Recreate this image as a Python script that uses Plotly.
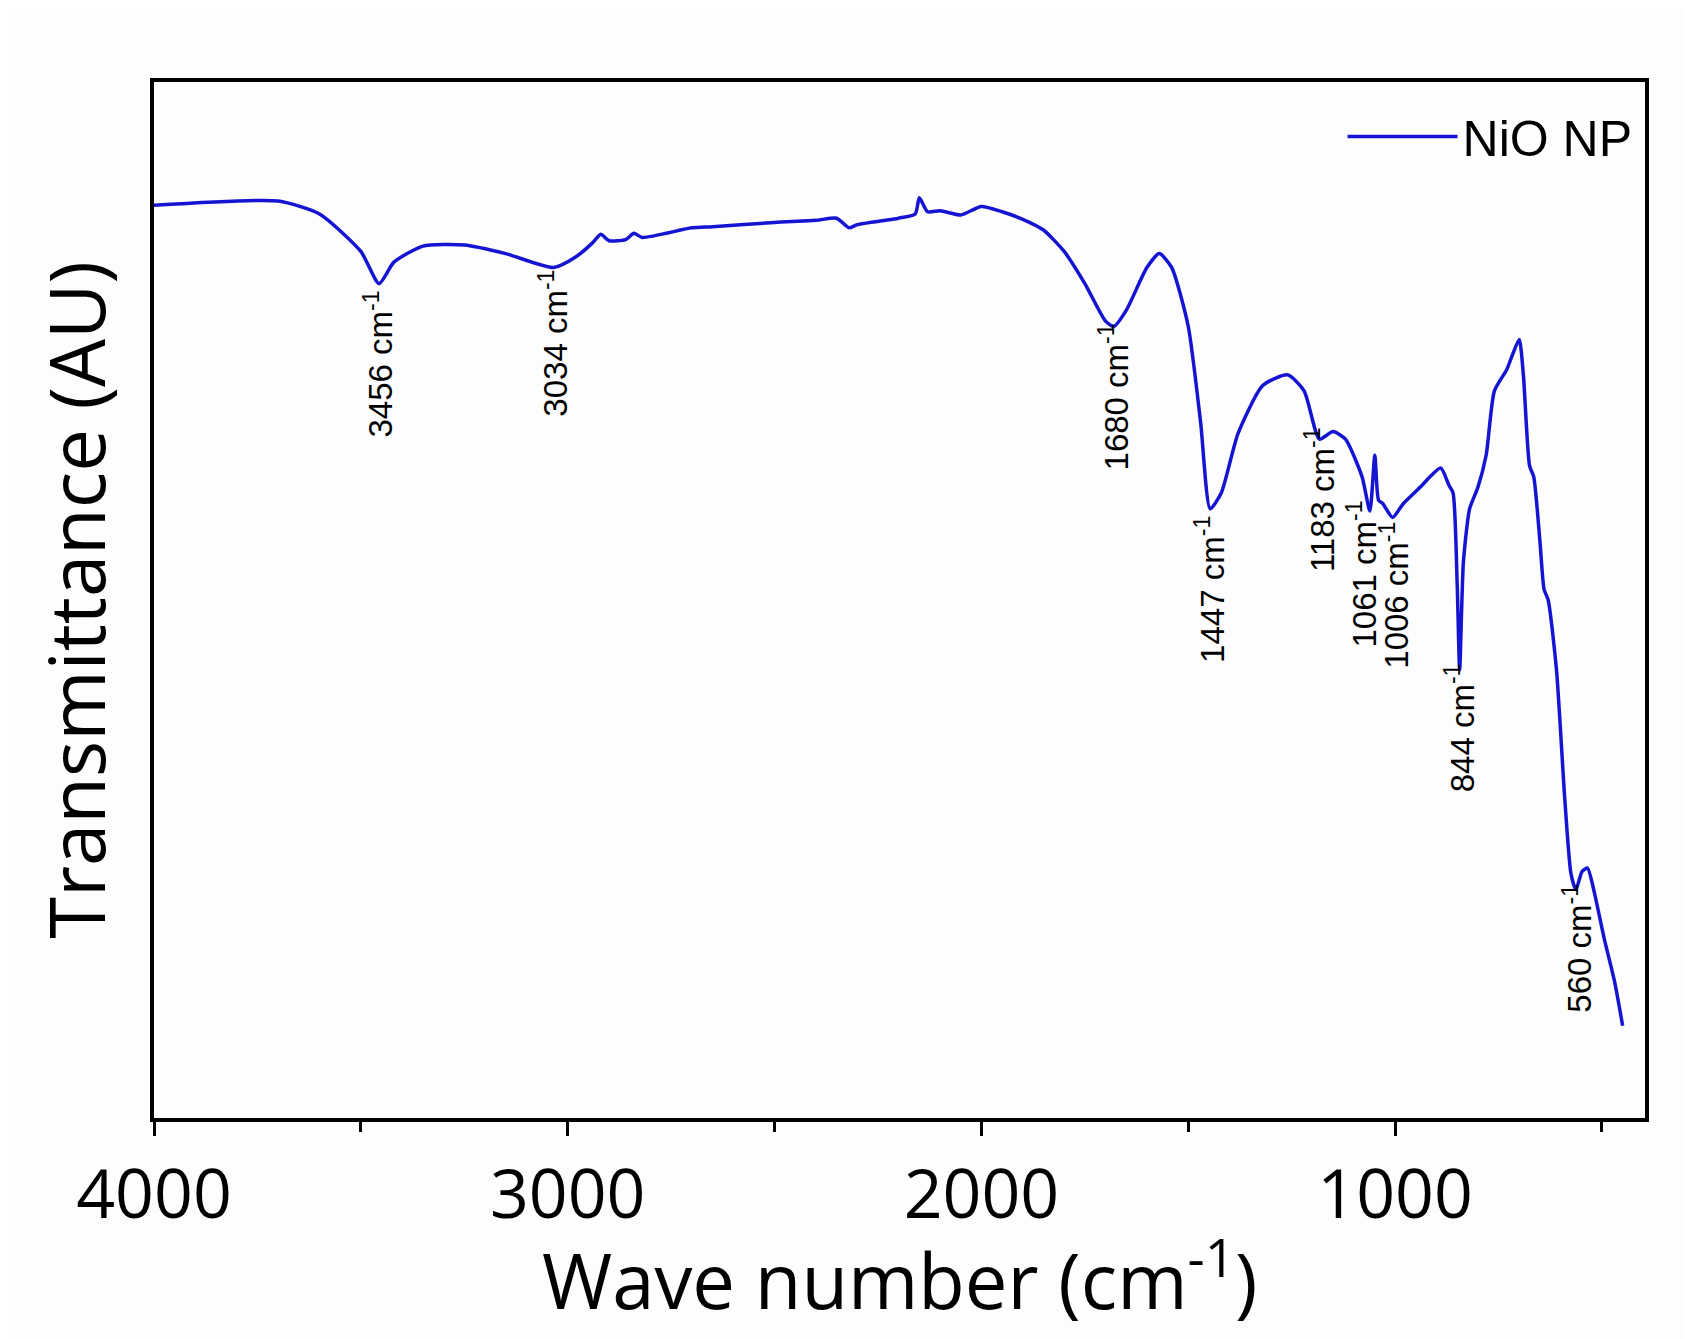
import plotly.graph_objects as go

wavenumber = [4000,3700,3600,3500,3456,3420,3350,3250,3150,3034,2980,2940,2920,2900,2860,2840,2820,2700,2650,2500,2400,2350,2320,2300,2200,2160,2150,2130,2100,2050,2000,1950,1900,1850,1800,1750,1700,1680,1650,1600,1570,1540,1500,1470,1447,1420,1380,1320,1260,1220,1183,1150,1120,1080,1061,1049,1040,1030,1006,980,940,890,870,860,850,844,835,820,800,780,760,730,715,700,690,675,665,650,640,630,610,590,575,563,548,535,520,495,470,450]
ypix = [187,183,195,230,260,240,225,224,232,245,235,222,214,220,219,213,217,208,207,203,201,199,208,205,199,195,180,193,192,196,188,193,200,210,230,260,295,300,285,245,232,245,300,390,470,455,400,355,345,360,405,398,405,440,472,420,462,465,478,465,450,432,448,455,540,620,520,470,450,420,360,340,325,312,345,430,440,500,545,555,620,740,810,825,808,805,825,870,910,952]
transmittance = [1038 - v for v in ypix]

peak_labels = ["3456", "3034", "1680", "1447", "1183", "1061", "1006", "844", "560"]
peak_x = [3456, 3034, 1680, 1447, 1183, 1061, 1006, 844, 560]
peak_top = [265, 245, 295, 475, 392, 460, 480, 612, 818]
peak_shift = [0, 0, 0, 0, 0, -8, 2, 0, 0]

fig = go.Figure()
fig.add_trace(go.Scatter(x=wavenumber, y=transmittance, mode="lines", name="NiO NP",
                         line=dict(color="#1414d2", width=3.5, shape="spline", smoothing=0.6)))

for lab, px, top, sh in zip(peak_labels, peak_x, peak_top, peak_shift):
    fig.add_annotation(x=px, y=1038 - top, text=f"{lab} cm<sup>-1</sup>", textangle=-90,
                       showarrow=False, xanchor="center", yanchor="top", xshift=sh,
                       font=dict(family="Liberation Sans", size=33, color="black"))

fig.add_annotation(xref="paper", yref="paper", x=0.5, y=-0.208, xanchor="center", yanchor="bottom",
                   text="Wave number (cm<sup>-1</sup>)", showarrow=False,
                   font=dict(family="Open Sans", size=76, color="black"))

fig.update_layout(
    width=1691, height=1339,
    margin=dict(l=146, r=54, t=74, b=229),
    paper_bgcolor="#fdfdfd", plot_bgcolor="#fdfdfd",
    showlegend=True,
    legend=dict(x=0.995, y=0.985, xanchor="right", yanchor="top", bgcolor="rgba(0,0,0,0)",
                font=dict(family="Liberation Sans", size=50, color="black"), itemwidth=110),
    xaxis=dict(range=[4000, 396], tickvals=[4000, 3000, 2000, 1000], ticktext=["4000", "3000", "2000", "1000"],
               ticks="outside", ticklen=14, tickwidth=3, tickcolor="black",
               minor=dict(tickvals=[3500, 2500, 1500, 500], ticks="outside", ticklen=10, tickwidth=3, tickcolor="black"),
               showline=True, linewidth=4, linecolor="black", mirror=True, showgrid=False, zeroline=False,
               tickfont=dict(family="Open Sans", size=68, color="black")),
    yaxis=dict(range=[0, 966], showticklabels=False, ticks="", showline=True, linewidth=4, linecolor="black",
               mirror=True, showgrid=False, zeroline=False,
               title=dict(text="Transmittance (AU)", font=dict(family="Open Sans", size=76, color="black"), standoff=20)),
)

fig.write_html("out.html")
